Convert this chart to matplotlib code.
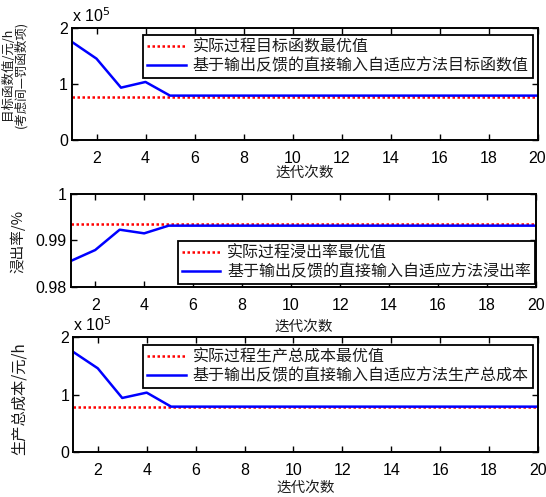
import matplotlib
matplotlib.use("Agg")
import matplotlib.pyplot as plt
from matplotlib.ticker import FuncFormatter, FixedLocator

plt.rcParams['font.family'] = ['Noto Sans CJK SC', 'DejaVu Sans']

iters = list(range(1, 21))
obj_actual_opt = 77400
obj_adaptive = [175600, 145800, 94000, 104200, 79800] + [79800] * 15
rate_actual_opt = 0.99360
rate_adaptive = [0.98554, 0.98791, 0.99230, 0.99151, 0.99317] + [0.99317] * 15
cost_actual_opt = 78300
cost_adaptive = [174500, 146100, 94500, 103800, 79400] + [79400] * 15

xlabel = "迭代次数"
ylabels = ["目标函数值/元/h\n(考虑间—罚函数项)", "浸出率/%", "生产总成本/元/h"]
legend_opt = ["实际过程目标函数最优值", "实际过程浸出率最优值", "实际过程生产总成本最优值"]
legend_ada = ["基于输出反馈的直接输入自适应方法目标函数值",
              "基于输出反馈的直接输入自适应方法浸出率",
              "基于输出反馈的直接输入自适应方法生产总成本"]
xticks = list(range(2, 21, 2))

W, H = 546, 497
fig = plt.figure(figsize=(W / 100, H / 100), dpi=100)

def px_axes(left, right, top, bottom):
    return fig.add_axes([left / W, (H - bottom) / H, (right - left) / W, (bottom - top) / H])

def fig_text(x, y, s, **kw):
    fig.text(x / W, (H - y) / H, s, **kw)

tickfont = ['Liberation Sans', 'DejaVu Sans']
TEXTC = '#1a1a1a'

def style(ax, xlab_y):
    ax.set_xlim(1, 20)
    ax.xaxis.set_major_locator(FixedLocator(xticks))
    ax.tick_params(direction='in', top=True, right=True, length=4, width=1.0,
                   labelsize=11.5)
    ax.tick_params(axis='x', pad=8)
    ax.tick_params(axis='y', pad=3)
    for lab in ax.get_xticklabels() + ax.get_yticklabels():
        lab.set_family(tickfont)
    for s in ax.spines.values():
        s.set_linewidth(1.4)
    bb = ax.get_position()
    fig_text((bb.x0 + bb.x1) / 2 * W, xlab_y, xlabel, fontsize=10.5,
             ha='center', va='center', color=TEXTC)

def legend(ax, labels, loc, anchor):
    lg = ax.legend(labels, loc=loc, bbox_to_anchor=anchor, borderaxespad=0,
                   fontsize=11.5, fancybox=False, edgecolor='black', framealpha=1,
                   handlelength=2.4, handletextpad=0.45, borderpad=0.25,
                   labelspacing=0.1)
    lg.get_frame().set_linewidth(1.3)
    for t in lg.get_texts():
        t.set_color(TEXTC)

sci = FuncFormatter(lambda v, p: "%g" % (v / 1e5))
OPT = dict(color='red', linestyle=(0, (1, 1)), linewidth=1.8)
ADA = dict(color='blue', linewidth=1.8)

# top
ax1 = px_axes(72, 537.5, 28.3, 140.3)
ax1.plot(iters, [obj_actual_opt] * len(iters), **OPT)
ax1.plot(iters, obj_adaptive, **ADA)
ax1.set_ylim(0, 200000)
ax1.yaxis.set_major_locator(FixedLocator([0, 100000, 200000]))
ax1.yaxis.set_major_formatter(sci)
style(ax1, 173)
fig_text(14, 74, ylabels[0], fontsize=9, rotation=90, ha='center', va='center',
         linespacing=1.0, color=TEXTC)
ax1.text(0, 1.03, r"x 10$^5$", transform=ax1.transAxes, fontsize=11.5,
         family=tickfont, va='bottom', ha='left')
legend(ax1, [legend_opt[0], legend_ada[0]], 'upper right', (0.99, 0.942))

# middle
ax2 = px_axes(70.7, 536, 194, 286.7)
ax2.plot(iters, [rate_actual_opt] * len(iters), **OPT)
ax2.plot(iters, rate_adaptive, **ADA)
ax2.set_ylim(0.98, 1.0)
ax2.yaxis.set_major_locator(FixedLocator([0.98, 0.99, 1.0]))
ax2.yaxis.set_major_formatter(FuncFormatter(lambda v, p: "%g" % round(v, 4)))
style(ax2, 327)
fig_text(18, 241, ylabels[1], fontsize=10.5, rotation=90, ha='center', va='center',
         color=TEXTC)
legend(ax2, [legend_opt[1], legend_ada[1]], 'lower right', (0.998, 0.025))

# bottom
ax3 = px_axes(73.3, 538, 337.3, 452.3)
ax3.plot(iters, [cost_actual_opt] * len(iters), **OPT)
ax3.plot(iters, cost_adaptive, **ADA)
ax3.set_ylim(0, 200000)
ax3.yaxis.set_major_locator(FixedLocator([0, 100000, 200000]))
ax3.yaxis.set_major_formatter(sci)
style(ax3, 488)
fig_text(19, 399, ylabels[2], fontsize=11, rotation=90, ha='center', va='center',
         color=TEXTC)
ax3.text(0, 1.03, r"x 10$^5$", transform=ax3.transAxes, fontsize=11.5,
         family=tickfont, va='bottom', ha='left')
legend(ax3, [legend_opt[2], legend_ada[2]], 'upper right', (0.989, 0.9365))

fig.savefig("out.png", dpi=100)
